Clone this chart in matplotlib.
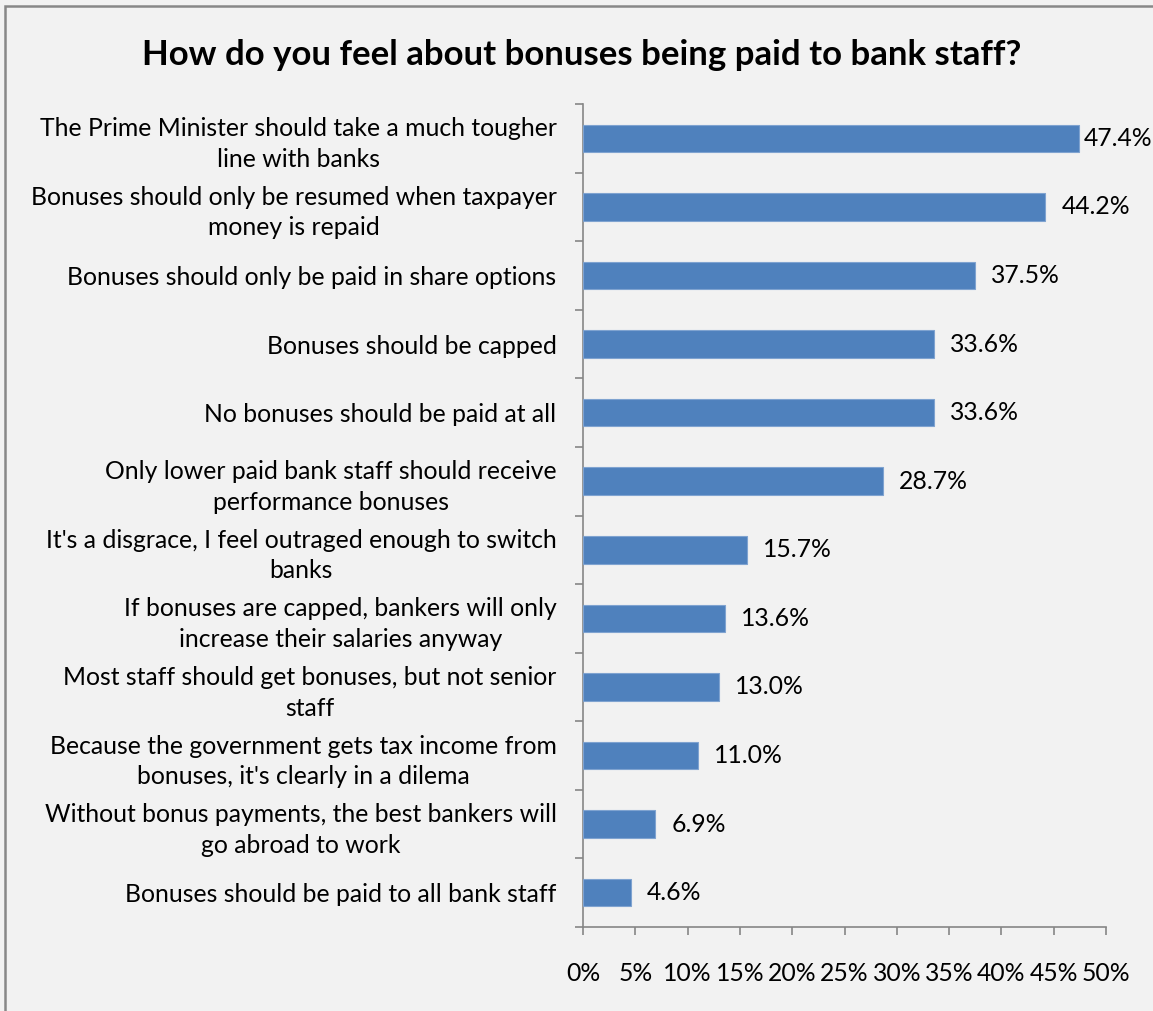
import matplotlib
matplotlib.use("Agg")
import matplotlib.pyplot as plt
from matplotlib.patches import Rectangle
from matplotlib.ticker import FixedLocator, PercentFormatter

plt.rcParams['font.family'] = ['Lato', 'DejaVu Sans']

title = "How do you feel about bonuses being paid to bank staff?"

categories = [
    "The Prime Minister should take a much tougher\nline with banks",
    "Bonuses should only be resumed when taxpayer\nmoney is repaid",
    "Bonuses should only be paid in share options",
    "Bonuses should be capped",
    "No bonuses should be paid at all",
    "Only lower paid bank staff should receive\nperformance bonuses",
    "It's a disgrace, I feel outraged enough to switch\nbanks",
    "If bonuses are capped, bankers will only\nincrease their salaries anyway",
    "Most staff should get bonuses, but not senior\nstaff",
    "Because the government gets tax income from\nbonuses, it's clearly in a dilema",
    "Without bonus payments, the best bankers will\ngo abroad to work",
    "Bonuses should be paid to all bank staff",
]
values = [47.4, 44.2, 37.5, 33.6, 33.6, 28.7, 15.7, 13.6, 13.0, 11.0, 6.9, 4.6]
x_ticks = [0, 5, 10, 15, 20, 25, 30, 35, 40, 45, 50]

bg = "#f2f2f2"
bar_color = "#4f81bd"
axis_color = "#868686"
fs = 17.8

fig = plt.figure(figsize=(11.53, 10.11), dpi=100, facecolor=bg)
ax = fig.add_axes([583 / 1153, 1 - 927 / 1011, (1106 - 583) / 1153, (927 - 104) / 1011])
ax.set_facecolor(bg)

n = len(categories)
pos = list(range(n))[::-1]  # first category at the top
ax.barh(pos, values, height=0.4, color=bar_color, edgecolor="#7fa3d0", linewidth=0.8, zorder=3)

ax.set_xlim(0, 50)
ax.set_ylim(-0.5, n - 0.5)

# value labels (the longest bar keeps its label tight so it stays inside the chart)
for p, v in zip(pos, values):
    off = 3.5 if v > 46 else 11.5
    ax.annotate(f"{v:.1f}%", (v, p), xytext=(off, 0), textcoords="offset points",
                ha="left", va="center", fontsize=fs, color="black")

# x axis
ax.xaxis.set_major_locator(FixedLocator(x_ticks))
ax.xaxis.set_major_formatter(PercentFormatter(decimals=0))
ax.tick_params(axis="x", which="major", length=6, width=1.2, color=axis_color,
               direction="out", labelsize=fs, pad=19)

# y axis: ticks on category boundaries, labels at category centres
ax.yaxis.set_major_locator(FixedLocator([i - 0.5 for i in range(n + 1)]))
ax.yaxis.set_major_formatter(plt.NullFormatter())
ax.yaxis.set_minor_locator(FixedLocator(pos))
ax.set_yticklabels(categories, minor=True)
ax.tick_params(axis="y", which="major", length=6, width=1.2, color=axis_color, direction="out")
ax.tick_params(axis="y", which="minor", length=0, labelsize=fs, pad=19)
for lbl in ax.get_yticklabels(minor=True):
    lbl.set_multialignment("center")
    lbl.set_linespacing(1.4)

for side in ("top", "right"):
    ax.spines[side].set_visible(False)
for side in ("left", "bottom"):
    ax.spines[side].set_color(axis_color)
    ax.spines[side].set_linewidth(1.2)

fig.text(582 / 1153, 1 - 55 / 1011, title, ha="center", va="center",
         fontsize=25, fontweight="bold")

# chart frame (only its left and top edges fall inside the image)
fig.patches.append(Rectangle((5 / 1153, -0.05), 1.1, 1.05 - 6 / 1011,
                             transform=fig.transFigure, fill=False,
                             edgecolor="#888888", linewidth=1.8, clip_on=False))

fig.savefig("out.png", dpi=100, facecolor=bg)
